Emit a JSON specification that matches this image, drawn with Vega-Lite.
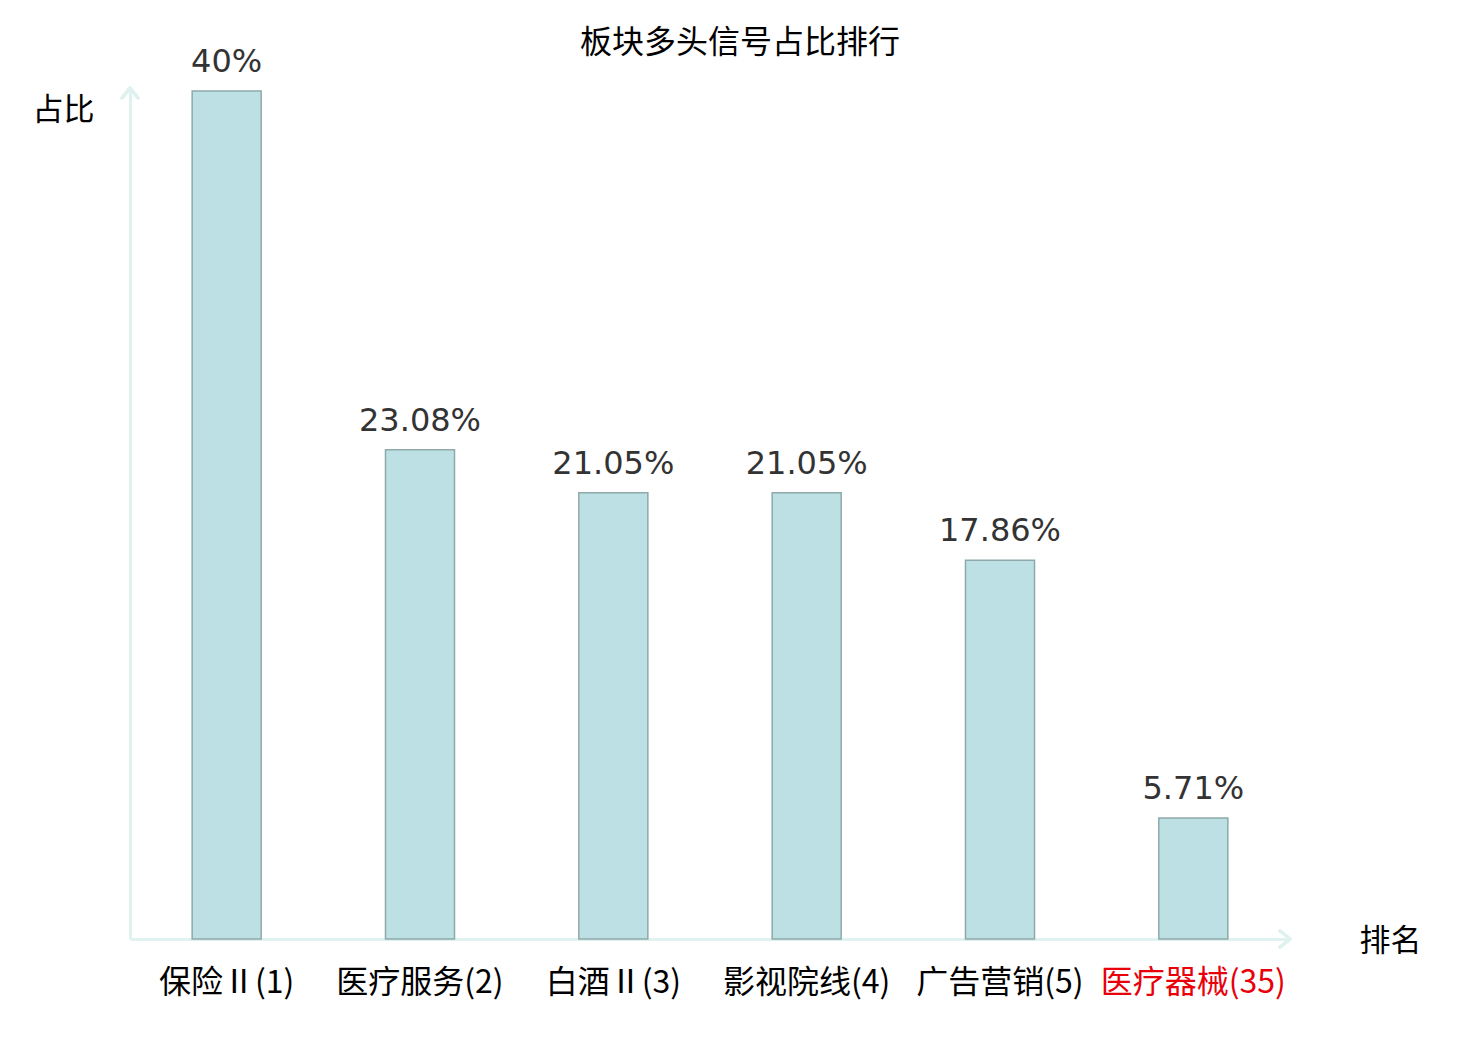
{
  "$schema": "https://vega.github.io/schema/vega-lite/v6.json",
  "autosize": "none",
  "width": 1160,
  "height": 848,
  "padding": {"left": 130, "top": 91, "right": 190, "bottom": 101},
  "background": "white",
  "config": {"view": {"stroke": null}},
  "title": {
    "text": "板块多头信号占比排行",
    "font": "Noto Sans CJK SC",
    "fontSize": 32,
    "fontWeight": "normal",
    "color": "black",
    "anchor": "middle",
    "dx": 30,
    "offset": -14
  },
  "data": {
    "values": [
      {"name": "保险Ⅱ(1)", "value": 40, "label": "40%"},
      {"name": "医疗服务(2)", "value": 23.08, "label": "23.08%"},
      {"name": "白酒Ⅱ(3)", "value": 21.05, "label": "21.05%"},
      {"name": "影视院线(4)", "value": 21.05, "label": "21.05%"},
      {"name": "广告营销(5)", "value": 17.86, "label": "17.86%"},
      {"name": "医疗器械(35)", "value": 5.71, "label": "5.71%"}
    ]
  },
  "encoding": {
    "x": {
      "field": "name",
      "type": "nominal",
      "sort": null,
      "scale": {"paddingInner": 0.643, "paddingOuter": 0.3215},
      "axis": {
        "title": "排名",
        "titleFont": "Noto Sans CJK SC",
        "titleFontSize": 31,
        "titleFontWeight": "normal",
        "titleColor": "black",
        "titleAngle": 0,
        "titleAlign": "center",
        "titleBaseline": "middle",
        "titleX": 1260,
        "titleY": 2,
        "labelAngle": 0,
        "labelFont": "Noto Sans CJK SC",
        "labelFontSize": 32,
        "labelPadding": 28,
        "labelLimit": 0,
        "labelOverlap": false,
        "labelColor": {"condition": {"test": "datum.value === '医疗器械(35)'", "value": "#e8000b"}, "value": "black"},
        "ticks": false,
        "domainColor": "#dff2ef",
        "domainWidth": 3
      }
    },
    "y": {
      "field": "value",
      "type": "quantitative",
      "scale": {"domain": [0, 40]},
      "axis": {
        "title": "占比",
        "titleFont": "Noto Sans CJK SC",
        "titleFontSize": 31,
        "titleFontWeight": "normal",
        "titleColor": "black",
        "titleAngle": 0,
        "titleAlign": "center",
        "titleBaseline": "middle",
        "titleX": -67,
        "titleY": 19,
        "labels": false,
        "ticks": false,
        "grid": false,
        "domainColor": "#dff2ef",
        "domainWidth": 3
      }
    }
  },
  "layer": [
    {
      "mark": {"type": "bar", "fill": "#bce0e3", "stroke": "#8fa9ab", "strokeWidth": 1.5}
    },
    {
      "mark": {"type": "text", "font": "DejaVu Sans", "fontSize": 32, "color": "#333333", "baseline": "alphabetic", "dy": -19},
      "encoding": {"text": {"field": "label"}}
    },
    {
      "mark": {"type": "rule", "color": "#dff2ef", "strokeWidth": 3, "strokeCap": "round", "clip": false},
      "encoding": {
        "x": {"value": 0}, "x2": {"value": -8},
        "y": {"datum": 40.14, "type": "quantitative"}, "y2": {"datum": 39.67}
      }
    },
    {
      "mark": {"type": "rule", "color": "#dff2ef", "strokeWidth": 3, "strokeCap": "round", "clip": false},
      "encoding": {
        "x": {"value": 0}, "x2": {"value": 8},
        "y": {"datum": 40.14, "type": "quantitative"}, "y2": {"datum": 39.67}
      }
    },
    {
      "mark": {"type": "rule", "color": "#dff2ef", "strokeWidth": 3, "strokeCap": "round", "clip": false},
      "encoding": {
        "x": {"value": 0}, "x2": {"value": 0},
        "y": {"datum": 40.14, "type": "quantitative"}, "y2": {"datum": 40}
      }
    },
    {
      "mark": {"type": "rule", "color": "#dff2ef", "strokeWidth": 3, "strokeCap": "round", "clip": false},
      "encoding": {
        "x": {"value": {"expr": "width"}}, "x2": {"value": {"expr": "width - 10"}},
        "y": {"datum": 0, "type": "quantitative"}, "y2": {"datum": 0.38}
      }
    },
    {
      "mark": {"type": "rule", "color": "#dff2ef", "strokeWidth": 3, "strokeCap": "round", "clip": false},
      "encoding": {
        "x": {"value": {"expr": "width"}}, "x2": {"value": {"expr": "width - 10"}},
        "y": {"datum": 0, "type": "quantitative"}, "y2": {"datum": -0.38}
      }
    }
  ]
}
